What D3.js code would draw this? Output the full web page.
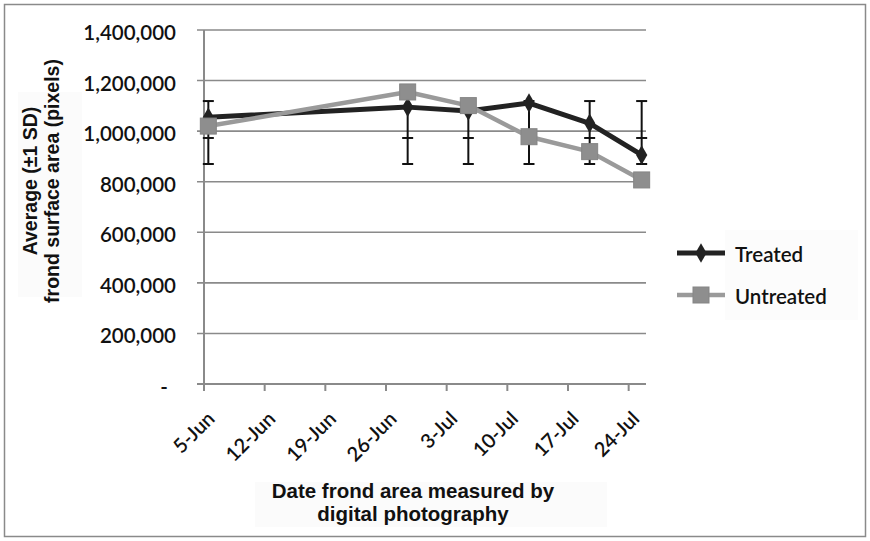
<html>
<head>
  <script src="https://d3js.org/d3.v7.min.js"></script>
  <style>
    body { margin: 0; background: #fff; }
  </style>
</head>
<body>
<div class="chart"></div>
<script>
// values
var dates = ["2013-06-05", "2013-06-28", "2013-07-05", "2013-07-12", "2013-07-19", "2013-07-25"];
var treated = [1055000, 1095000, 1080000, 1111000, 1031000, 906000];
var untreated = [1020000, 1155000, 1101000, 978000, 919000, 807000];
var errHigh = [1119000, 1095000, 1119000, 1119000, 1119000, 1119000];
var errMid = [973000, 973000, 973000, 973000, 973000, 973000];
var errLow = [870000, 870000, 870000, 870000, 870000, 870000];
var yTicks = [0, 200000, 400000, 600000, 800000, 1000000, 1200000, 1400000];
var xTicks = ["2013-06-05", "2013-06-12", "2013-06-19", "2013-06-26", "2013-07-03", "2013-07-10", "2013-07-17", "2013-07-24"];
var seriesNames = ["Treated", "Untreated"];

var width = 870, height = 541;
var parse = d3.timeParse("%Y-%m-%d");
var noon = function (s) { return d3.timeHour.offset(parse(s), 12); };

var svg = d3.select(".chart").append("svg")
  .attr("width", width)
  .attr("height", height);

// outer frame
svg.append("rect")
  .attr("x", 4.5).attr("y", 4.5)
  .attr("width", 861).attr("height", 532)
  .attr("fill", "#fff").attr("stroke", "#8a8a8a").attr("stroke-width", 1.5);

// faint boxes behind titles / legend
svg.append("rect").attr("x", 18).attr("y", 92).attr("width", 64).attr("height", 205).attr("fill", "#fbfbfb");
svg.append("rect").attr("x", 255).attr("y", 482).attr("width", 352).attr("height", 45).attr("fill", "#fbfbfb");
svg.append("rect").attr("x", 725).attr("y", 230).attr("width", 133).attr("height", 90).attr("fill", "#fcfcfc");

var x = d3.scaleTime()
  .domain([parse("2013-06-05"), parse("2013-07-26")])
  .range([204, 646]);

var y = d3.scaleLinear()
  .domain([0, 1400000])
  .range([384, 30]);

// gridlines + y labels
var fmt = d3.format(",");
svg.append("g").selectAll("line")
  .data(yTicks.filter(function (d) { return d > 0; }))
  .enter().append("line")
  .attr("x1", 197).attr("x2", 646)
  .attr("y1", function (d) { return y(d); })
  .attr("y2", function (d) { return y(d); })
  .attr("stroke", "#8a8a8a").attr("stroke-width", 1.6);

svg.append("g").selectAll("text")
  .data(yTicks)
  .enter().append("text")
  .attr("x", function (d) { return d === 0 ? 168 : 176; })
  .attr("y", function (d) { return y(d) + 10; })
  .attr("text-anchor", "end")
  .style("font-family", "Lato, 'Open Sans', sans-serif")
  .style("font-size", "20.5px")
  .style("font-weight", "600")
  .attr("fill", "#111")
  .text(function (d) { return d === 0 ? "-" : fmt(d); });

// axes lines
svg.append("line").attr("x1", 204).attr("x2", 204).attr("y1", 30).attr("y2", 391)
  .attr("stroke", "#8a8a8a").attr("stroke-width", 2);
svg.append("line").attr("x1", 197).attr("x2", 646).attr("y1", 384).attr("y2", 384)
  .attr("stroke", "#8a8a8a").attr("stroke-width", 2);

// x ticks and labels
svg.append("g").selectAll("line")
  .data(xTicks)
  .enter().append("line")
  .attr("x1", function (d) { return x(parse(d)); })
  .attr("x2", function (d) { return x(parse(d)); })
  .attr("y1", 384).attr("y2", 391)
  .attr("stroke", "#8a8a8a").attr("stroke-width", 2);

var xfmt = d3.timeFormat("%-d-%b");
svg.append("g").selectAll("text")
  .data(xTicks)
  .enter().append("text")
  .attr("text-anchor", "end")
  .attr("transform", function (d) { return "translate(" + (x(parse(d)) + 12) + ",420) rotate(-45)"; })
  .style("font-family", "Lato, 'Open Sans', sans-serif")
  .style("font-size", "20px")
  .style("font-weight", "600")
  .attr("fill", "#111")
  .text(function (d) { return xfmt(parse(d)); });

// error bars
var eb = svg.append("g").attr("stroke", "#111").attr("stroke-width", 2);
dates.forEach(function (d, i) {
  var cx = x(noon(d));
  eb.append("line").attr("x1", cx).attr("x2", cx).attr("y1", y(errHigh[i])).attr("y2", y(errLow[i]));
  [errHigh[i], errMid[i], errLow[i]].forEach(function (v) {
    eb.append("line").attr("x1", cx - 5.5).attr("x2", cx + 5.5).attr("y1", y(v)).attr("y2", y(v));
  });
});

var line = d3.line()
  .x(function (d) { return x(noon(d[0])); })
  .y(function (d) { return y(d[1]); });

var diamond = d3.symbol().type(d3.symbolDiamond).size(110);

// treated
svg.append("path")
  .datum(d3.zip(dates, treated))
  .attr("d", line)
  .attr("fill", "none").attr("stroke", "#222").attr("stroke-width", 5)
  .attr("stroke-linejoin", "round");
svg.append("g").selectAll("path")
  .data(d3.zip(dates, treated))
  .enter().append("path")
  .attr("d", diamond)
  .attr("transform", function (d) { return "translate(" + x(noon(d[0])) + "," + y(d[1]) + ")"; })
  .attr("fill", "#222");

// untreated
svg.append("path")
  .datum(d3.zip(dates, untreated))
  .attr("d", line)
  .attr("fill", "none").attr("stroke", "#9a9a9a").attr("stroke-width", 4.5)
  .attr("stroke-linejoin", "round");
svg.append("g").selectAll("rect")
  .data(d3.zip(dates, untreated))
  .enter().append("rect")
  .attr("x", function (d) { return x(noon(d[0])) - 8; })
  .attr("y", function (d) { return y(d[1]) - 8; })
  .attr("width", 16).attr("height", 16)
  .attr("fill", "#8e8e8e").attr("stroke", "#858585").attr("stroke-width", 1);

// legend
var lg = svg.append("g");
[253, 295].forEach(function (ly, i) {
  lg.append("line").attr("x1", 677).attr("x2", 725).attr("y1", ly).attr("y2", ly)
    .attr("stroke", i === 0 ? "#222" : "#9a9a9a").attr("stroke-width", i === 0 ? 5 : 4.5);
  if (i === 0) {
    lg.append("path").attr("d", diamond).attr("transform", "translate(701," + ly + ")").attr("fill", "#222");
  } else {
    lg.append("rect").attr("x", 693).attr("y", ly - 8).attr("width", 16).attr("height", 16)
      .attr("fill", "#8e8e8e").attr("stroke", "#858585");
  }
  lg.append("text").attr("x", 735).attr("y", ly + 9)
    .style("font-family", "Lato, 'Open Sans', sans-serif")
    .style("font-size", "20.5px")
    .style("font-weight", "600")
    .attr("fill", "#111")
    .text(seriesNames[i]);
});

// axis titles
var yt = svg.append("text")
  .attr("transform", "translate(46,181) rotate(-90)")
  .attr("text-anchor", "middle")
  .style("font-family", "'Liberation Sans', Arial, sans-serif")
  .style("font-size", "19.5px")
  .style("font-weight", "bold")
  .attr("fill", "#111");
yt.append("tspan").attr("x", 0).attr("y", -9).text("Average (±1 SD)");
yt.append("tspan").attr("x", 0).attr("y", 13).text("frond surface area (pixels)");

var xt = svg.append("text")
  .attr("text-anchor", "middle")
  .style("font-family", "'Liberation Sans', Arial, sans-serif")
  .style("font-size", "20.5px")
  .style("font-weight", "bold")
  .attr("fill", "#111");
xt.append("tspan").attr("x", 413).attr("y", 498).text("Date frond area measured by");
xt.append("tspan").attr("x", 413).attr("y", 521).text("digital photography");
</script>
</body>
</html>
